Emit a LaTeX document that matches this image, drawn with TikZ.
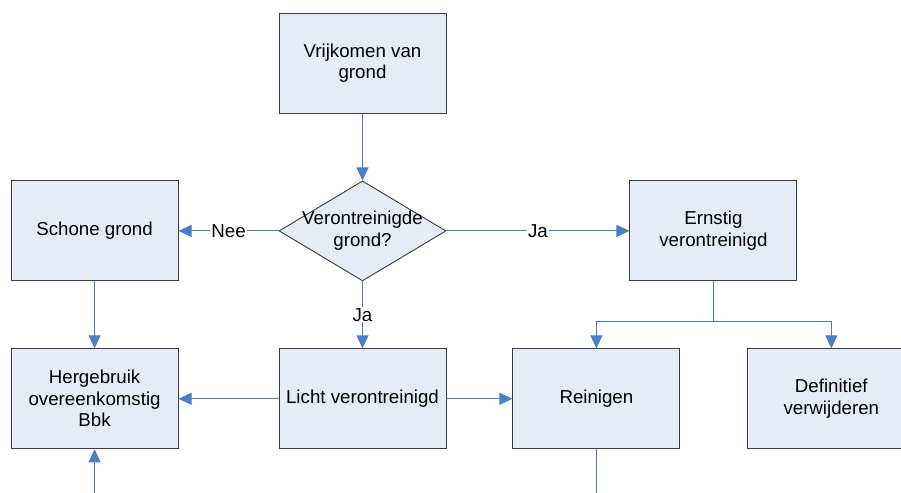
\documentclass[tikz,border=0pt]{standalone}
\usepackage{fontspec}
\setmainfont{Liberation Sans}
\usetikzlibrary{shapes.geometric, arrows.meta, positioning, calc}
\usepackage{xcolor}
\definecolor{cBox}{RGB}{230, 236, 247}
\definecolor{bBox}{RGB}{60, 60, 60}
\definecolor{cLine}{RGB}{76, 126, 196}

\begin{document}
\begin{tikzpicture}[
    font=\fontsize{18.7}{21.5}\selectfont,
    >={Triangle[length=13pt, width=12pt]},
    node distance=67pt,
    box/.style={
        draw=bBox,
        fill=cBox,
        line width=0.9pt,
        minimum width=167pt,
        minimum height=100pt,
        align=center,
        inner sep=4pt
    },
    decision/.style={
        diamond,
        draw=bBox,
        fill=cBox,
        line width=0.9pt,
        minimum width=167pt,
        minimum height=100pt,
        inner sep=0pt
    },
    arrow/.style={->, line width=1pt, color=cLine},
    flow/.style={line width=1pt, color=cLine},
    tag/.style={fill=white, inner sep=1pt, text=black}
]

\clip (0,0) rectangle (901pt,-492pt);

\node[box] (vrij) at (362.5pt,-63pt) {Vrijkomen van\\grond};

\node[decision, below=of vrij] (check) {};
\node[align=center] (checktext) at (check) {Verontreinigde\\grond?};

\node[box, left=100pt of check] (schoon) {Schone grond};
\node[box, right=183pt of check] (ernstig) {Ernstig\\verontreinigd};

\node[box, below=of check] (licht) {Licht verontreinigd};
\node[box, below=of schoon] (hergebruik) {Hergebruik\\overeenkomstig\\Bbk};
\node[box, right=66pt of licht] (reinig) {Reinigen};
\node[box, right=of reinig] (definitief) {Definitief\\verwijderen};

% split below Ernstig verontreinigd
\coordinate (split) at ($(ernstig.south)+(0,-40pt)$);
% loose ends at the bottom edge
\coordinate (inflow) at ($(hergebruik.south)+(0,-46pt)$);
\coordinate (outflow) at ($(reinig.south)+(0,-46pt)$);

\draw[arrow] (vrij) -- (check);
\draw[arrow] (check) -- node[tag] {Nee} (schoon);
\draw[arrow] (check) -- node[tag] {Ja} (ernstig);
\draw[arrow] (check) -- node[tag] {Ja} (licht);
\draw[arrow] (schoon) -- (hergebruik);
\draw[arrow] (licht) -- (hergebruik);
\draw[arrow] (licht) -- (reinig);
\draw[flow] (ernstig) -- (split);
\draw[arrow] (split) -| (reinig.north);
\draw[arrow] (split) -| (definitief.north);
\draw[flow] (reinig) -- (outflow);
\draw[arrow] (inflow) -- (hergebruik);

\end{tikzpicture}
\end{document}
